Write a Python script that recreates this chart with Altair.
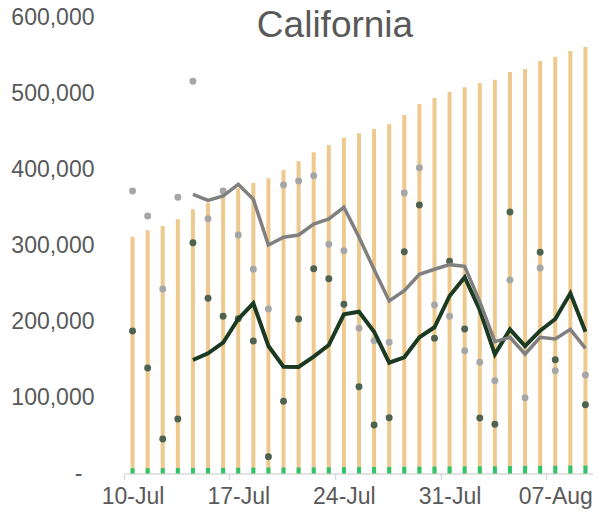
import altair as alt
import pandas as pd

title_text = "California"
day_labels = ["10-Jul", "11-Jul", "12-Jul", "13-Jul", "14-Jul", "15-Jul", "16-Jul",
              "17-Jul", "18-Jul", "19-Jul", "20-Jul", "21-Jul", "22-Jul", "23-Jul",
              "24-Jul", "25-Jul", "26-Jul", "27-Jul", "28-Jul", "29-Jul", "30-Jul",
              "31-Jul", "01-Aug", "02-Aug", "03-Aug", "04-Aug", "05-Aug", "06-Aug",
              "07-Aug", "08-Aug", "09-Aug"]
tick_days = [0, 7, 14, 21, 28]

cumulative = [311600, 320000, 325700, 334400, 347600, 356400, 368700, 375200, 382200,
              388400, 399300, 410800, 422600, 432200, 441900, 447600, 453300, 459400,
              471700, 486200, 494100, 502000, 508100, 513800, 518200, 528300, 532200,
              542800, 548000, 555900, 561200]
deaths = [6900, 6950, 7000, 7030, 7150, 7270, 7380, 7500, 7620, 7700, 7750, 7870, 8030,
          8180, 8340, 8450, 8530, 8580, 8730, 8920, 9070, 9220, 9390, 9440, 9490, 9700,
          9900, 10000, 10180, 10290, 10370]
gray_dots = [371700, 338800, 242800, 363400, 516000, 335300, 371700, 313800, 268700,
             216400, 379600, 384900, 391900, 301600, 293200, 191000, 174700, 172600,
             369100, 402400, 221700, 206800, 161600, 146300, 122100, 254600, 99700,
             270400, 135300, None, 129600]
green_dots = [187500, 138800, 45400, 71700, 303700, 230500, 206800, 203700, 174300,
              22100, 95000, 203300, 269500, 256300, 222600, 114200, 63800, 73400,
              291800, 353300, 177900, 279200, 190100, 73000, 64700, 344100, None,
              291000, 149700, None, 90500]
gray_line = [None, None, None, None, 367300, 359400, 365100, 380500, 360800, 300700,
             310800, 313800, 328300, 334900, 350300, 311000, 268500, 227000, 240500,
             262100, 268700, 274800, 272600, 226100, 173400, 179200, 157200, 179200,
             177000, 189700, 164700]
green_line = [None, None, None, None, 149300, 158100, 172100, 203300, 223900, 167800,
              140500, 140100, 153700, 169100, 209500, 212900, 186600, 145800, 152900,
              179200, 192400, 233600, 258200, 215100, 156800, 189700, 167800, 187900,
              203300, 237100, 186600]

df = pd.DataFrame({
    "day": list(range(len(day_labels))),
    "label": day_labels,
    "cum": cumulative,
    "deaths": deaths,
    "gdot": gray_dots,
    "kdot": green_dots,
    "gline": gray_line,
    "kline": green_line,
})

label_array = "[" + ",".join("'%s'" % day_labels[d] for d in tick_days) + "]"

x_enc = alt.X(
    "day:Q",
    scale=alt.Scale(domain=[-0.5, len(day_labels) - 0.5], nice=False, zero=False, padding=0),
    axis=alt.Axis(
        values=tick_days,
        labelExpr=label_array + "[floor(datum.value / 7)]",
        title=None,
        grid=False,
        domainColor="#D9D9D9",
        domainWidth=1.5,
        tickColor="#D9D9D9",
        tickWidth=1.5,
        tickSize=6,
        tickOffset=-9,
        labelOffset=9,
        labelPadding=6,
        labelFontSize=23,
        labelColor="#595959",
        labelFont="Liberation Sans",
        labelFlush=False,
        labelOverlap=False,
    ),
)

y_scale = alt.Scale(domain=[0, 600000], nice=False)
y_axis = alt.Axis(
    values=[0, 100000, 200000, 300000, 400000, 500000, 600000],
    labelExpr="datum.value == 0 ? '-' : format(datum.value, ',')",
    title=None,
    grid=False,
    domain=False,
    ticks=False,
    labelPadding={"condition": {"test": "datum.value == 0", "value": 43}, "value": 31},
    labelFontSize=23,
    labelColor="#595959",
    labelFont="Liberation Sans",
)

base = alt.Chart(df)

bars = base.mark_bar(color="#EEC98E", size=4).encode(
    x=x_enc, y=alt.Y("cum:Q", scale=y_scale, axis=y_axis)
)
dbars = base.mark_bar(color="#2EC46C", size=4).encode(
    x="day:Q", y=alt.Y("deaths:Q", scale=y_scale)
)
gdots = base.transform_filter("isValid(datum.gdot)").mark_circle(
    size=48, color="#A6A6A6", opacity=1
).encode(x="day:Q", y=alt.Y("gdot:Q", scale=y_scale))
kdots = base.transform_filter("isValid(datum.kdot)").mark_circle(
    size=48, color="#4F614F", opacity=1
).encode(x="day:Q", y=alt.Y("kdot:Q", scale=y_scale))
kline = base.transform_filter("isValid(datum.kline)").mark_line(
    color="#1B3A22", strokeWidth=4
).encode(x="day:Q", y=alt.Y("kline:Q", scale=y_scale))
gline = base.transform_filter("isValid(datum.gline)").mark_line(
    color="#808080", strokeWidth=3.5
).encode(x="day:Q", y=alt.Y("gline:Q", scale=y_scale))

chart = (
    alt.layer(bars, dbars, gdots, kdots, kline, gline)
    .properties(
        width=468,
        height=456,
        background="white",
        autosize=alt.AutoSizeParams(type="none"),
        padding={"left": 117, "top": 9.5, "right": 0, "bottom": 36},
        title=alt.TitleParams(
            text=title_text,
            font="Liberation Sans",
            fontSize=37,
            fontWeight="normal",
            color="#595959",
            anchor="middle",
            frame="group",
            dx=-24,
            dy=71,
            baseline="alphabetic",
        ),
    )
    .configure_view(strokeWidth=0)
    .configure_axisY(domain=False, ticks=False, grid=False)
    .configure_axisX(grid=False)
)

chart.save("out.html", embed_options={"renderer": "svg", "actions": False})
